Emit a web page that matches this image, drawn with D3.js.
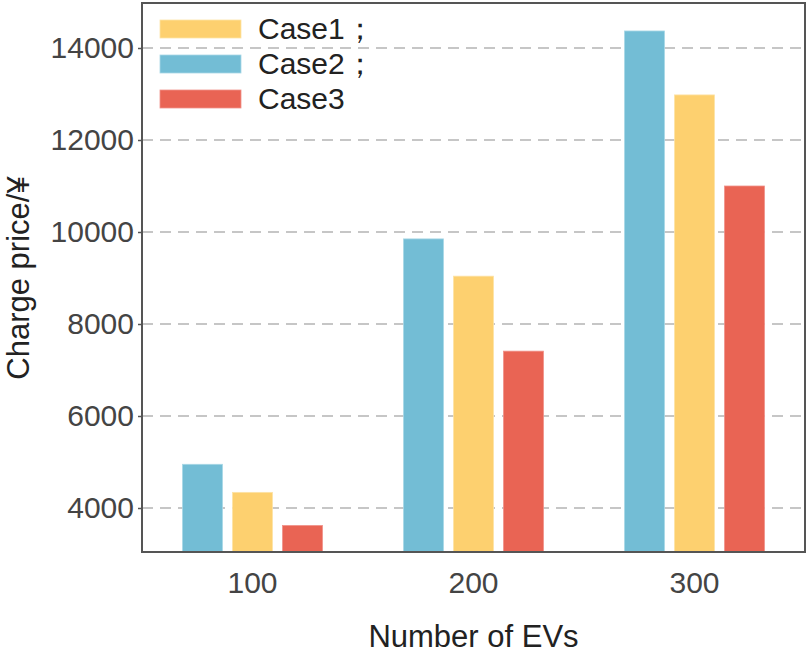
<!DOCTYPE html>
<html>
<head>
<meta charset="utf-8">
<script src="https://cdn.jsdelivr.net/npm/d3@7"></script>
<style>
  body { margin: 0; background: #fff; }
  text { font-family: "Liberation Sans", Arial, sans-serif; }
</style>
</head>
<body>
<svg id="chart" width="809" height="653"></svg>
<script>
// data
const categories = ["100", "200", "300"];
const case1 = [4340, 9040, 12980];
const case2 = [4950, 9850, 14370];
const case3 = [3620, 7410, 11000];
const yTicks = [4000, 6000, 8000, 10000, 12000, 14000];

// bars are drawn Case2, Case1, Case3 inside each group; legend lists Case1..3
const series = [
    { name: "Case1；", values: case1, color: "#fdd06f", stroke: "#fde3a6" },
    { name: "Case2；", values: case2, color: "#73bdd5", stroke: "#a9d8e6" },
    { name: "Case3", values: case3, color: "#e96454", stroke: "#f0928a" }
];
const barOrder = [1, 0, 2];

const svg = d3.select("#chart");
const width = +svg.attr("width");
const plotLeft = 142, plotRight = width - 4, plotTop = 3, plotBottom = 552;

const x = d3.scaleBand()
    .domain(categories)
    .range([plotLeft, plotRight])
    .padding(0);

const y = d3.scaleLinear()
    .domain([3000, 15000])
    .range([554, 2]);

const barW = 40, barStep = 50;

// grid
svg.append("g")
    .selectAll("line")
    .data(yTicks)
    .enter().append("line")
    .attr("x1", plotLeft)
    .attr("x2", plotRight)
    .attr("y1", d => y(d))
    .attr("y2", d => y(d))
    .attr("stroke", "#c6c6c6")
    .attr("stroke-width", 2)
    .attr("stroke-dasharray", "11,7");

// bars
barOrder.forEach((si, k) => {
    const s = series[si];
    svg.append("g")
        .selectAll("rect")
        .data(categories)
        .enter().append("rect")
        .attr("x", d => x(d) + x.bandwidth() / 2 + (k - 1) * barStep - barW / 2)
        .attr("width", barW)
        .attr("y", (d, i) => y(s.values[i]))
        .attr("height", (d, i) => plotBottom - y(s.values[i]))
        .attr("fill", s.color)
        .attr("stroke", s.stroke)
        .attr("stroke-width", 0.8);
});

// y axis
const yAxis = svg.append("g")
    .attr("transform", `translate(${plotLeft},0)`)
    .call(d3.axisLeft(y).tickValues(yTicks).tickSize(4).tickPadding(4).tickFormat(d3.format("d")));
yAxis.select(".domain").remove();
yAxis.selectAll("line").attr("stroke", "#555").attr("stroke-width", 1.5);
yAxis.selectAll("text")
    .attr("fill", "#444")
    .attr("font-size", 30)
    .attr("font-family", "Liberation Sans, Arial, sans-serif");

// x axis labels
const xAxis = svg.append("g")
    .attr("transform", `translate(0,${plotBottom})`)
    .call(d3.axisBottom(x).tickSize(0).tickPadding(20));
xAxis.select(".domain").remove();
xAxis.selectAll("text")
    .attr("fill", "#444")
    .attr("font-size", 30)
    .attr("font-family", "Liberation Sans, Arial, sans-serif");

// frame
svg.append("rect")
    .attr("x", plotLeft)
    .attr("y", plotTop)
    .attr("width", plotRight - plotLeft)
    .attr("height", plotBottom - plotTop)
    .attr("fill", "none")
    .attr("stroke", "#555")
    .attr("stroke-width", 2);

// axis titles
svg.append("text")
    .attr("x", (plotLeft + plotRight) / 2)
    .attr("y", 647)
    .attr("text-anchor", "middle")
    .attr("font-size", 31)
    .attr("fill", "#222")
    .text("Number of EVs");

svg.append("text")
    .attr("transform", "translate(29,278) rotate(-90)")
    .attr("text-anchor", "middle")
    .attr("font-size", 31)
    .attr("fill", "#222")
    .text("Charge price/¥");

// legend
const legend = svg.append("g").attr("transform", "translate(160,20)");
series.forEach((s, i) => {
    const g = legend.append("g").attr("transform", `translate(0,${i * 35})`);
    g.append("rect")
        .attr("width", 81)
        .attr("height", 18)
        .attr("fill", s.color)
        .attr("stroke", s.stroke)
        .attr("stroke-width", 0.8);
    g.append("text")
        .attr("x", 98)
        .attr("y", 19)
        .attr("font-size", 30)
        .attr("fill", "#222")
        .text(s.name);
});
</script>
</body>
</html>
